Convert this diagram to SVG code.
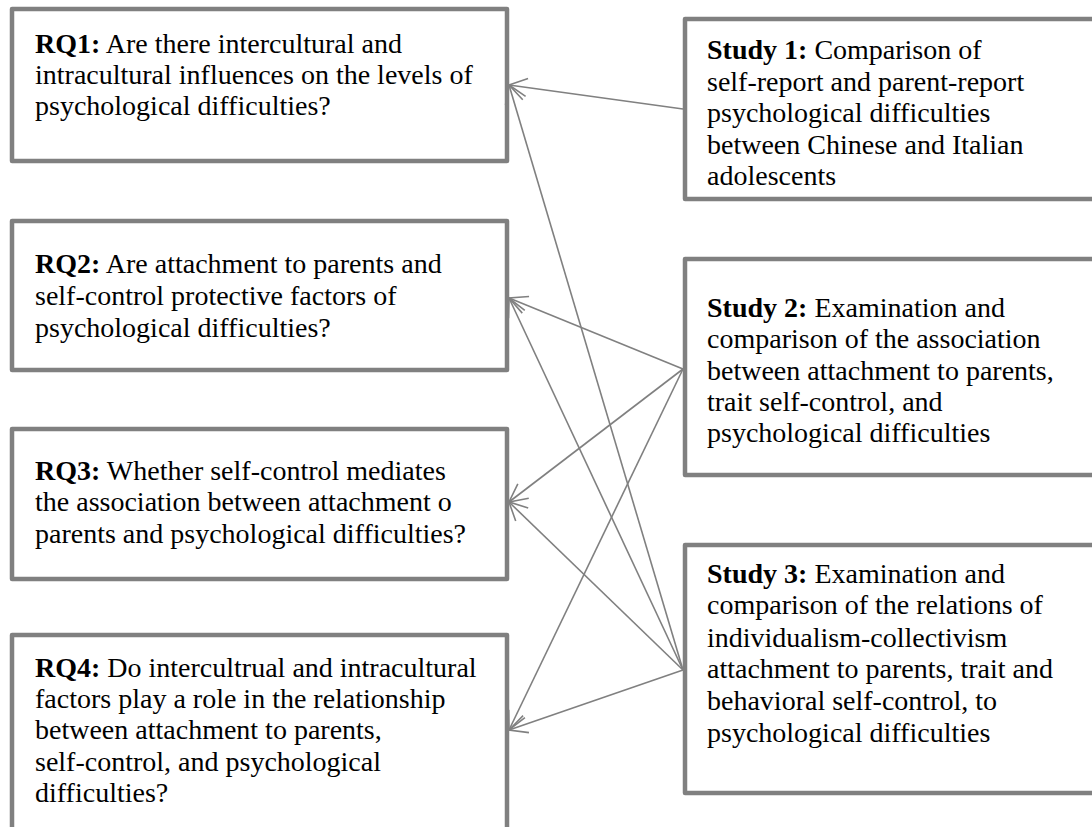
<svg xmlns="http://www.w3.org/2000/svg" width="1092" height="827" viewBox="0 0 1092 827">
  <style>
    .box { fill: #ffffff; stroke: #808080; stroke-width: 4.5; stroke-linejoin: round; }
    .txt { font-family: "Liberation Serif", "Times New Roman", serif; font-size: 28px; fill: #000000; }
    .b { font-weight: bold; }
    .link { stroke: #808080; stroke-width: 1.6; fill: none; marker-end: url(#open-arrow); }
  </style>
  <defs>
    <marker id="open-arrow" markerUnits="userSpaceOnUse" viewBox="-20 -11 22 22" refX="0" refY="0" markerWidth="22" markerHeight="22" orient="auto" overflow="visible">
      <path d="M-18,-9 L0,0 L-18,9" fill="none" stroke="#808080" stroke-width="1.6"/>
    </marker>
  </defs>

  <rect width="1092" height="827" fill="#ffffff"/>

  <!-- research questions -->
  <g id="rq1">
    <rect class="box" x="12" y="9" width="495" height="152"/>
    <text class="txt" x="35" y="53"><tspan class="b">RQ1:</tspan> Are there intercultural and</text>
    <text class="txt" x="35" y="84">intracultural influences on the levels of</text>
    <text class="txt" x="35" y="115">psychological difficulties?</text>
  </g>
  <g id="rq2">
    <rect class="box" x="12" y="221" width="495" height="149"/>
    <text class="txt" x="35" y="273"><tspan class="b">RQ2:</tspan> Are attachment to parents and</text>
    <text class="txt" x="35" y="305">self-control protective factors of</text>
    <text class="txt" x="35" y="337">psychological difficulties?</text>
  </g>
  <g id="rq3">
    <rect class="box" x="12" y="429" width="495" height="150"/>
    <text class="txt" x="35" y="480"><tspan class="b">RQ3:</tspan> Whether self-control mediates</text>
    <text class="txt" x="35" y="511">the association between attachment o</text>
    <text class="txt" x="35" y="543">parents and psychological difficulties?</text>
  </g>
  <g id="rq4">
    <rect class="box" x="12" y="635" width="495" height="220"/>
    <text class="txt" x="35" y="677"><tspan class="b">RQ4:</tspan> Do intercultrual and intracultural</text>
    <text class="txt" x="35" y="708">factors play a role in the relationship</text>
    <text class="txt" x="35" y="739">between attachment to parents,</text>
    <text class="txt" x="35" y="771">self-control, and psychological</text>
    <text class="txt" x="35" y="802">difficulties?</text>
  </g>

  <!-- studies -->
  <g id="study1">
    <rect class="box" x="685" y="19" width="420" height="180"/>
    <text class="txt" x="707" y="59"><tspan class="b">Study 1:</tspan> Comparison of</text>
    <text class="txt" x="707" y="91">self-report and parent-report</text>
    <text class="txt" x="707" y="122">psychological difficulties</text>
    <text class="txt" x="707" y="154">between Chinese and Italian</text>
    <text class="txt" x="707" y="185">adolescents</text>
  </g>
  <g id="study2">
    <rect class="box" x="685" y="259" width="420" height="216"/>
    <text class="txt" x="707" y="317"><tspan class="b">Study 2:</tspan> Examination and</text>
    <text class="txt" x="707" y="348">comparison of the association</text>
    <text class="txt" x="707" y="380">between attachment to parents,</text>
    <text class="txt" x="707" y="411">trait self-control, and</text>
    <text class="txt" x="707" y="442">psychological difficulties</text>
  </g>
  <g id="study3">
    <rect class="box" x="685" y="545" width="420" height="248"/>
    <text class="txt" x="707" y="583"><tspan class="b">Study 3:</tspan> Examination and</text>
    <text class="txt" x="707" y="614">comparison of the relations of</text>
    <text class="txt" x="707" y="647">individualism-collectivism</text>
    <text class="txt" x="707" y="678">attachment to parents, trait and</text>
    <text class="txt" x="707" y="710">behavioral self-control, to</text>
    <text class="txt" x="707" y="742">psychological difficulties</text>
  </g>

  <!-- connectors: each study points to the questions it answers -->
  <g id="connectors">
    <line class="link" x1="683" y1="109" x2="509" y2="85"/>
    <line class="link" x1="683" y1="670" x2="509" y2="85"/>
    <line class="link" x1="683" y1="369" x2="509" y2="298"/>
    <line class="link" x1="683" y1="670" x2="509" y2="298"/>
    <line class="link" x1="683" y1="369" x2="509" y2="502"/>
    <line class="link" x1="683" y1="670" x2="509" y2="502"/>
    <line class="link" x1="683" y1="369" x2="509" y2="730"/>
    <line class="link" x1="683" y1="670" x2="509" y2="730"/>
  </g>
</svg>
